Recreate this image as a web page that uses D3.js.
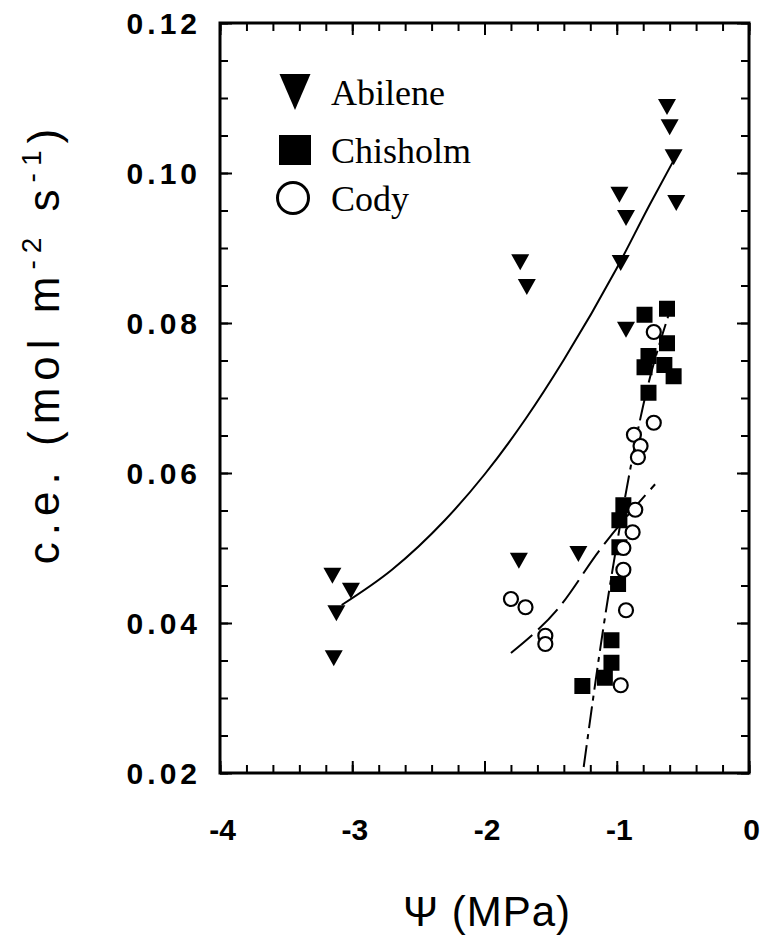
<!DOCTYPE html>
<html>
<head>
<meta charset="utf-8" />
<title>c.e. vs water potential</title>
<script src="https://cdn.jsdelivr.net/npm/d3@7/dist/d3.min.js"></script>
<style>
  html, body { margin: 0; padding: 0; background: #fff; }
  svg { display: block; }
</style>
</head>
<body>
<script>
// ---- data ----
var abileneX = [-0.62, -0.60, -0.57, -0.55, -0.98, -0.93, -0.97, -1.73, -1.68, -0.93, -3.15, -3.01, -3.12, -3.14, -1.74, -1.29];
var abileneY = [0.1088, 0.1061, 0.1021, 0.0960, 0.0971, 0.0940, 0.0880, 0.0881, 0.0848, 0.0791, 0.0463, 0.0443, 0.0413, 0.0353, 0.0483, 0.0492];

var chisholmX = [-0.79, -0.62, -0.62, -0.76, -0.79, -0.64, -0.57, -0.76, -0.95, -0.98, -0.98, -0.99, -1.04, -1.04, -1.09, -1.26];
var chisholmY = [0.0811, 0.0819, 0.0773, 0.0756, 0.0741, 0.0744, 0.0729, 0.0707, 0.0557, 0.0537, 0.0501, 0.0452, 0.0377, 0.0347, 0.0327, 0.0316];

var codyX = [-0.72, -0.72, -0.87, -0.82, -0.84, -0.86, -0.88, -0.95, -0.95, -0.93, -0.97, -1.80, -1.69, -1.54, -1.54];
var codyY = [0.0788, 0.0667, 0.0651, 0.0636, 0.0621, 0.0551, 0.0521, 0.0500, 0.0471, 0.0417, 0.0317, 0.0432, 0.0421, 0.0383, 0.0372];

// fitted curves, sampled by eye
var abileneFitX = [-3.08, -2.7, -2.3, -2.0, -1.69, -1.4, -1.0, -0.75, -0.56];
var abileneFitY = [0.0424, 0.0471, 0.0537, 0.0598, 0.0672, 0.0751, 0.0873, 0.0958, 0.1020];
var chisholmFitX = [-1.25, -1.10, -0.95, -0.80, -0.60];
var chisholmFitY = [0.0208, 0.0395, 0.0555, 0.0690, 0.0815];
var codyFitX = [-1.80, -1.44, -1.13, -0.71];
var codyFitY = [0.0360, 0.0420, 0.0497, 0.0585];

var xTicks = [-4, -3, -2, -1, 0];
var xTickLabels = ['-4', '-3', '-2', '-1', '0'];
var yTicks = [0.02, 0.04, 0.06, 0.08, 0.10, 0.12];
var yTickLabels = ['0.02', '0.04', '0.06', '0.08', '0.10', '0.12'];
var series = ['Abilene', 'Chisholm', 'Cody'];

// ---- layout ----
var width = 761, height = 945;
var plotL = 220, plotR = 749, plotT = 23, plotB = 773;

var svg = d3.select('body').append('svg').attr('width', width).attr('height', height);

var x = d3.scaleLinear().domain([-4, 0]).range([plotL, plotR]);
var y = d3.scaleLinear().domain([0.02, 0.12]).range([plotB, plotT]);

var xMinor = d3.range(0, 21).map(function(i){ return -4 + i * 0.2; });
var yMinor = d3.range(0, 21).map(function(i){ return 0.02 + i * 0.005; });

function tickAxis(axis, vals, size) {
    return axis.tickValues(vals).tickSize(-size).tickFormat('');
}
// inward ticks on all four sides
[[8, xMinor, yMinor], [12, xTicks, yTicks]].forEach(function(t){
    svg.append('g').attr('transform', 'translate(0,' + plotB + ')').call(tickAxis(d3.axisBottom(x), t[1], t[0]));
    svg.append('g').attr('transform', 'translate(0,' + plotT + ')').call(tickAxis(d3.axisTop(x), t[1], t[0]));
    svg.append('g').attr('transform', 'translate(' + plotL + ',0)').call(tickAxis(d3.axisLeft(y), t[2], t[0]));
    svg.append('g').attr('transform', 'translate(' + plotR + ',0)').call(tickAxis(d3.axisRight(y), t[2], t[0]));
});
svg.selectAll('.domain').remove();
svg.selectAll('.tick line').attr('stroke', '#000').attr('stroke-width', 2);

// frame
svg.append('rect').attr('x', plotL).attr('y', plotT).attr('width', plotR - plotL).attr('height', plotB - plotT)
    .attr('fill', 'none').attr('stroke', '#000').attr('stroke-width', 3);

// tick labels
var gxl = svg.append('g').attr('transform', 'translate(0,' + plotB + ')')
    .call(d3.axisBottom(x).tickValues(xTicks).tickSize(0).tickPadding(46).tickFormat(function(d, i){ return xTickLabels[i]; }));
var gyl = svg.append('g').attr('transform', 'translate(' + plotL + ',0)')
    .call(d3.axisLeft(y).tickValues(yTicks).tickSize(0).tickPadding(19).tickFormat(function(d, i){ return yTickLabels[i]; }));
gxl.select('.domain').remove();
gyl.select('.domain').remove();
svg.selectAll('.tick text').attr('font-family', 'Liberation Sans, Arial, sans-serif')
    .attr('font-weight', 'bold').attr('font-size', 30).attr('fill', '#000');
gyl.selectAll('.tick text').attr('letter-spacing', 4).attr('dy', '0.36em');
gxl.selectAll('.tick text').attr('dx', 2);

// axis titles
svg.append('text').attr('x', 487).attr('y', 926).attr('text-anchor', 'middle')
    .attr('font-family', 'Liberation Sans, Arial, sans-serif').attr('font-size', 42)
    .attr('letter-spacing', 1).text('\u03A8 (MPa)');

var yt = svg.append('text').attr('transform', 'translate(59,343) rotate(-90)').attr('text-anchor', 'middle')
    .attr('font-family', 'Liberation Sans, Arial, sans-serif').attr('font-size', 44).attr('letter-spacing', 7);
yt.append('tspan').text('c.e. (mol m');
yt.append('tspan').attr('font-size', 28).attr('dy', -18).text('-2');
yt.append('tspan').attr('dy', 18).text(' s');
yt.append('tspan').attr('font-size', 28).attr('dy', -18).text('-1');
yt.append('tspan').attr('dy', 18).text(')');

// marker shapes
function tri(w, h) {
    return 'M' + (-w / 2) + ',' + (-h / 2) + 'L' + (w / 2) + ',' + (-h / 2) + 'L0,' + (h / 2) + 'Z';
}

// fitted lines
var line = d3.line().curve(d3.curveMonotoneX).x(function(d){ return x(d[0]); }).y(function(d){ return y(d[1]); });
svg.append('path').attr('d', line(d3.zip(abileneFitX, abileneFitY)))
    .attr('fill', 'none').attr('stroke', '#000').attr('stroke-width', 2);
svg.append('path').attr('d', line(d3.zip(chisholmFitX, chisholmFitY)))
    .attr('fill', 'none').attr('stroke', '#000').attr('stroke-width', 2).attr('stroke-dasharray', '22,6,5,6');
svg.append('path').attr('d', line(d3.zip(codyFitX, codyFitY)))
    .attr('fill', 'none').attr('stroke', '#000').attr('stroke-width', 2).attr('stroke-dasharray', '28,8');

// points
svg.append('g').selectAll('path').data(d3.zip(abileneX, abileneY)).enter().append('path')
    .attr('d', tri(18, 16)).attr('transform', function(d){ return 'translate(' + x(d[0]) + ',' + y(d[1]) + ')'; })
    .attr('fill', '#000');
svg.append('g').selectAll('rect').data(d3.zip(chisholmX, chisholmY)).enter().append('rect')
    .attr('x', function(d){ return x(d[0]) - 8; }).attr('y', function(d){ return y(d[1]) - 8; })
    .attr('width', 16).attr('height', 16).attr('fill', '#000');
svg.append('g').selectAll('circle').data(d3.zip(codyX, codyY)).enter().append('circle')
    .attr('cx', function(d){ return x(d[0]); }).attr('cy', function(d){ return y(d[1]); })
    .attr('r', 7).attr('fill', '#fff').attr('stroke', '#000').attr('stroke-width', 2.2);

// legend
var lg = svg.append('g');
var legY = [92, 150, 198];
lg.append('path').attr('d', tri(31, 36)).attr('transform', 'translate(295,' + legY[0] + ')').attr('fill', '#000');
lg.append('rect').attr('x', 279).attr('y', legY[1] - 15).attr('width', 32).attr('height', 30).attr('fill', '#000');
lg.append('circle').attr('cx', 293).attr('cy', legY[2]).attr('r', 15.5).attr('fill', '#fff')
    .attr('stroke', '#000').attr('stroke-width', 3);
lg.selectAll('text').data(series).enter().append('text')
    .attr('x', 331).attr('y', function(d, i){ return legY[i]; }).attr('dy', '0.35em')
    .attr('font-family', 'Liberation Serif, Times New Roman, serif').attr('font-size', 36)
    .text(function(d){ return d; });
</script>
</body>
</html>
